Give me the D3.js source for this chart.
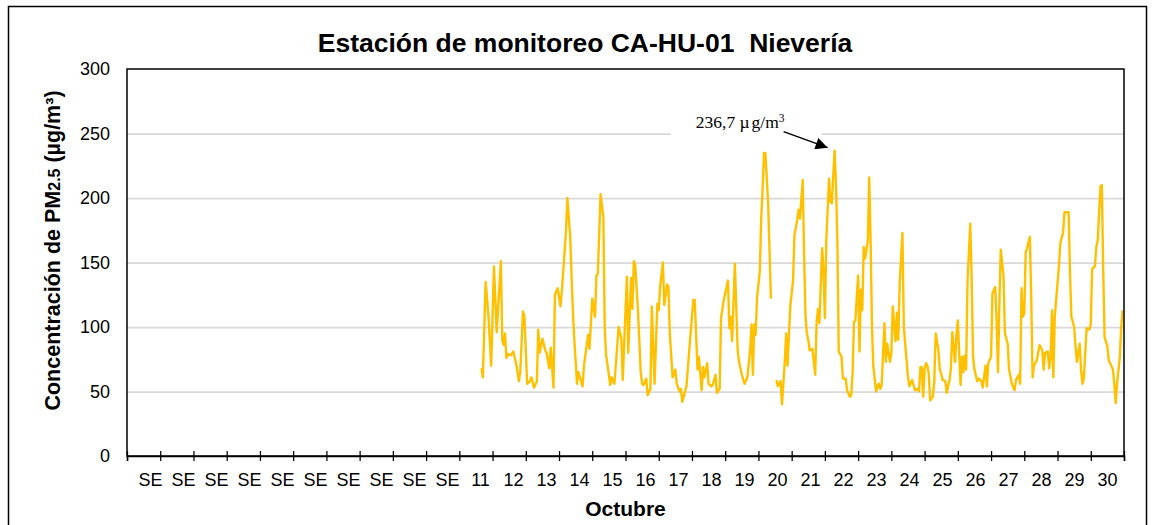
<!DOCTYPE html>
<html>
<head>
<meta charset="utf-8">
<script src="https://cdn.jsdelivr.net/npm/d3@7"></script>
<style>
    body { margin: 0; background: #fff; }
    svg { display: block; }
</style>
</head>
<body>
<div id="chart"></div>
<script>
// Categorías del eje X (días)
const categorias = ["SE", "SE", "SE", "SE", "SE", "SE", "SE", "SE", "SE", "SE",
    "11", "12", "13", "14", "15", "16", "17", "18", "19", "20",
    "21", "22", "23", "24", "25", "26", "27", "28", "29", "30"];
const yTicks = [0, 50, 100, 150, 200, 250, 300];

// Horas desde el 11 de octubre 00:00 y concentración PM2.5 (µg/m³); null = sin dato
const horas = [16, 17, 19, 21, 23, 25, 27, 30, 31, 32, 33, 34, 35, 37, 39, 40, 41, 43, 44, 46,
    47, 49, 51, 52, 54, 56, 57, 58, 60, 62, 63, 65, 66, 68, 69, 71, 73, 74, 76, 77,
    78, 80, 82, 83, 85, 86, 89, 90, 93, 94, 96, 98, 99, 100, 102, 104, 105, 106, 108, 109,
    110, 112, 115, 117, 118, 121, 122, 124, 125, 126, 127, 129, 131, 132, 133, 135, 136, 138, 139, 141,
    143, 144, 145, 147, 148, 150, 151, 152, 154, 156, 157, 159, 160, 161, 163, 164, 167, 169, 170, 172,
    173, 175, 176, 177, 179, 180, 182, 183, 185, 186, 188, 189, 191, 194, 195, 196, 197, 199, 201, 202,
    204, 206, 208, 210, 211, 212, 213, 214, 215, 217, 218, 219, 220, 221, 223, 224, 225, 226, 229, 230,
    232, 233, 235, 236, 237, 239, 241, 242, 244, 245, 246, 248, 249, 250, 251, 252, 253, 255, 257, 258,
    259, 260, 262, 263, 264, 265, 267, 268, 269, 271, 272, 273, 274, 276, 277, 279, 280, 282, 283, 284,
    285, 286, 288, 289, 290, 291, 292, 293, 295, 296, 297, 298, 299, 301, 302, 303, 304, 305, 307, 308,
    309, 311, 312, 313, 315, 316, 317, 318, 320, 321, 323, 324, 325, 327, 328, 329, 331, 332, 333, 334,
    335, 336, 337, 338, 339, 340, 342, 343, 344, 346, 347, 348, 349, 351, 352, 354, 355, 356, 358, 359,
    360, 362, 363, 364, 365, 366, 367, 369, 370, 371, 372, 374, 375, 377, 378, 380, 381, 382, 384, 385,
    387, 388, 389, 390, 391, 393, 394, 396, 397, 399, 401, 402, 404, 405, 406, 407, 408, 409, 410, 412,
    413, 414, 415, 417, 419, 421, 422, 423, 425, 426, 427, 428, 429, 430, 432, 433, 434, 436, 437, 440,
    441, 442, 444, 445, 446, 448, 449, 450, 451, 453, 455, 456, 457, 459, 460, 461, 462, 463, 464, 465,
    466, 468, 469, 470, 472, 473, 474, 475, 477, 478, 479];
const pm25 = [68, 61, 135, 109, 70, 147, 96, 151, 90, 86, 95, 76, 79, 78, 81, 76, 72, 58, 65, 112,
    108, 56, 58, 61, 53, 58, 98, 80, 91, 82, 80, 68, 84, 53, 125, 130, 116, 127, 158, 174,
    200, 171, 112, 91, 56, 65, 54, 70, 94, 83, 122, 108, 140, 141, 203, 185, 99, 78, 63, 55,
    61, 56, 100, 91, 59, 139, 80, 138, 114, 151, 148, 113, 65, 56, 55, 60, 47, 52, 116, 56,
    118, 113, 131, 150, 117, 133, 131, 95, 61, 67, 56, 50, 52, 42, 50, 54, 95, 121, 121, 67,
    77, 51, 69, 61, 72, 56, 54, 55, 63, 49, 52, 107, 121, 136, 99, 108, 89, 149, 82, 73,
    63, 56, 61, 82, 102, 63, 102, 94, 123, 143, 184, 206, 235, 235, 196, 160, 122, null, 59, 54,
    58, 40, 72, 95, 70, 116, 136, 171, 183, 191, 184, 214, 155, 108, 95, 90, 82, 83, 63, 103,
    114, 103, 161, 144, 107, 167, 215, 197, 196, 236.7, 211, 167, 81, 77, 60, 60, 51, 46, 47, 64,
    104, 105, 140, 81, 129, 113, 162, 153, 167, 216, 167, 100, 69, 50, 54, 56, 52, 55, 103, 73,
    87, 73, 80, 116, 89, 111, 90, 134, 173, 100, 74, 61, 54, 59, 55, 51, 52, 50, 69, 69,
    46, 67, 72, 70, 64, 43, 46, 58, 95, 82, 67, 64, 59, 58, 49, 59, 68, 96, 73, 94,
    105, 55, 77, 65, 78, 67, 136, 180, 136, 77, 67, 58, 60, 58, 53, 70, 54, 72, 77, 126,
    131, 105, 65, 118, 160, 139, 95, 87, 67, 56, 51, 59, 63, 56, 130, 108, 111, 158, 161, 170,
    123, 61, 70, 74, 86, 82, 67, 80, 81, 68, 76, 113, 61, 108, 134, 147, 165, 173, 189, 189,
    142, 108, 100, 85, 73, 87, 67, 56, 60, 99, 98, 102, 145, 147, 162, 167, 188, 209, 210, 144,
    92, 85, 74, 72, 67, 56, 41, 56, 77, 100, 113];

// Valor máximo anotado
const picoHora = 271;
const picoValor = 236.7;

const width = 1155;
const height = 525;
const margin = { top: 69, right: 31, bottom: 69, left: 127 };
const plotLeft = margin.left, plotRight = width - margin.right;
const plotTop = margin.top, plotBottom = height - margin.bottom;
const inicio = 10 * 24; // el día 11 comienza después de 10 categorías
const sans = "'Liberation Sans', Arial, sans-serif";
const serif = "'Liberation Serif', 'Times New Roman', serif";

const svg = d3.select("#chart").append("svg")
    .attr("width", width)
    .attr("height", height)
    .style("font-family", sans);

svg.append("rect")
    .attr("width", width)
    .attr("height", height)
    .attr("fill", "#fff");

// Marco exterior
svg.append("rect")
    .attr("x", 8.5).attr("y", 6.5)
    .attr("width", 1138).attr("height", 560)
    .attr("fill", "none")
    .attr("stroke", "#000")
    .attr("stroke-width", 1.5);

// Las etiquetas de Excel quedan un poco desplazadas respecto a las categorías
const x = d3.scaleBand()
    .domain(d3.range(categorias.length))
    .range([plotLeft + 7, plotRight])
    .padding(0);

const xt = d3.scaleLinear()
    .domain([0, categorias.length * 24])
    .range([plotLeft, plotRight]);

const y = d3.scaleLinear()
    .domain([0, 300])
    .range([plotBottom, plotTop]);

// Grilla
svg.append("g")
    .attr("transform", `translate(${plotLeft},0)`)
    .call(d3.axisLeft(y).tickValues(yTicks.slice(1, -1)).tickSize(-(plotRight - plotLeft)).tickFormat(""))
    .call(g => g.select(".domain").remove())
    .call(g => g.selectAll(".tick line").attr("stroke", "#d9d9d9").attr("stroke-width", 1.75));

// Etiquetas eje Y
svg.append("g")
    .attr("transform", `translate(${plotLeft},0)`)
    .call(d3.axisLeft(y).tickValues(yTicks).tickSize(0).tickPadding(17))
    .call(g => g.select(".domain").remove())
    .call(g => g.selectAll(".tick text")
        .attr("fill", "#000")
        .style("font-size", "18px")
        .style("font-family", sans));

// Etiquetas eje X
svg.append("g")
    .attr("transform", `translate(0,${plotBottom})`)
    .call(d3.axisBottom(x).tickSize(0).tickPadding(17).tickFormat(i => categorias[i]))
    .call(g => g.select(".domain").remove())
    .call(g => g.selectAll(".tick text")
        .attr("fill", "#000")
        .style("font-size", "18px")
        .style("font-family", sans));

// Marcas en los límites de categoría
svg.append("g")
    .attr("transform", `translate(0,${plotBottom})`)
    .call(d3.axisBottom(xt).tickValues(d3.range(0, categorias.length * 24 + 1, 24)).tickSize(5).tickFormat(""))
    .call(g => g.select(".domain").attr("stroke", "#000").attr("stroke-width", 1.5))
    .call(g => g.selectAll(".tick line").attr("y1", -5).attr("stroke", "#000").attr("stroke-width", 1.25));

// Serie PM2.5
const datos = horas.map((h, i) => ({ h, v: pm25[i] }));
const linea = d3.line()
    .defined(d => d.v !== null)
    .x(d => xt(inicio + d.h))
    .y(d => y(d.v));

svg.append("path")
    .datum(datos)
    .attr("d", linea)
    .attr("fill", "none")
    .attr("stroke", "#ffc000")
    .attr("stroke-width", 2.4)
    .attr("stroke-linejoin", "round");

// Marco del área de trazado
svg.append("rect")
    .attr("x", plotLeft).attr("y", plotTop)
    .attr("width", plotRight - plotLeft).attr("height", plotBottom - plotTop)
    .attr("fill", "none")
    .attr("stroke", "#000")
    .attr("stroke-width", 1.5);

// Anotación del máximo
const px = xt(inicio + picoHora), py = y(picoValor);
const tip = [px - 7, py - 3];
const tail = [px - 51, py - 19];

svg.append("rect")
    .attr("x", tail[0] - 113).attr("y", py - 42)
    .attr("width", 151).attr("height", 33)
    .attr("fill", "#fff");

svg.append("defs").append("marker")
    .attr("id", "flecha")
    .attr("viewBox", "0 0 10 10")
    .attr("refX", 10).attr("refY", 5)
    .attr("markerWidth", 15).attr("markerHeight", 12)
    .attr("markerUnits", "userSpaceOnUse")
    .attr("orient", "auto")
    .append("path")
    .attr("d", "M0,0L10,5L0,10Z")
    .attr("fill", "#000");

svg.append("line")
    .attr("x1", tail[0]).attr("y1", tail[1])
    .attr("x2", tip[0]).attr("y2", tip[1])
    .attr("stroke", "#000")
    .attr("stroke-width", 1.5)
    .attr("marker-end", "url(#flecha)");

const anot = svg.append("text")
    .attr("x", tail[0] + 1).attr("y", tail[1] - 4)
    .attr("text-anchor", "end")
    .style("font-family", serif)
    .style("font-size", "17.5px");
anot.append("tspan").text(`${String(picoValor).replace(".", ",")} µ`);
anot.append("tspan").attr("dx", 2).text("g/m");
anot.append("tspan")
    .attr("dy", -6)
    .style("font-size", "11.5px")
    .text("3");

// Título
svg.append("text")
    .attr("x", 585).attr("y", 52)
    .attr("text-anchor", "middle")
    .style("font-size", "26.5px")
    .style("font-weight", "bold")
    .style("white-space", "pre")
    .text("Estación de monitoreo CA-HU-01  Nievería");

// Título eje Y
const yTitulo = svg.append("text")
    .attr("transform", `translate(60,${(plotTop + plotBottom) / 2 - 12}) rotate(-90)`)
    .attr("text-anchor", "middle")
    .style("font-size", "21.5px")
    .style("font-weight", "bold");
yTitulo.append("tspan").text("Concentración de PM");
yTitulo.append("tspan").style("font-size", "16px").text("2.5");
yTitulo.append("tspan").text(" (µg/m³)");

// Título eje X
svg.append("text")
    .attr("x", (plotLeft + plotRight) / 2).attr("y", 516)
    .attr("text-anchor", "middle")
    .style("font-size", "21px")
    .style("font-weight", "bold")
    .text("Octubre");
</script>
</body>
</html>
